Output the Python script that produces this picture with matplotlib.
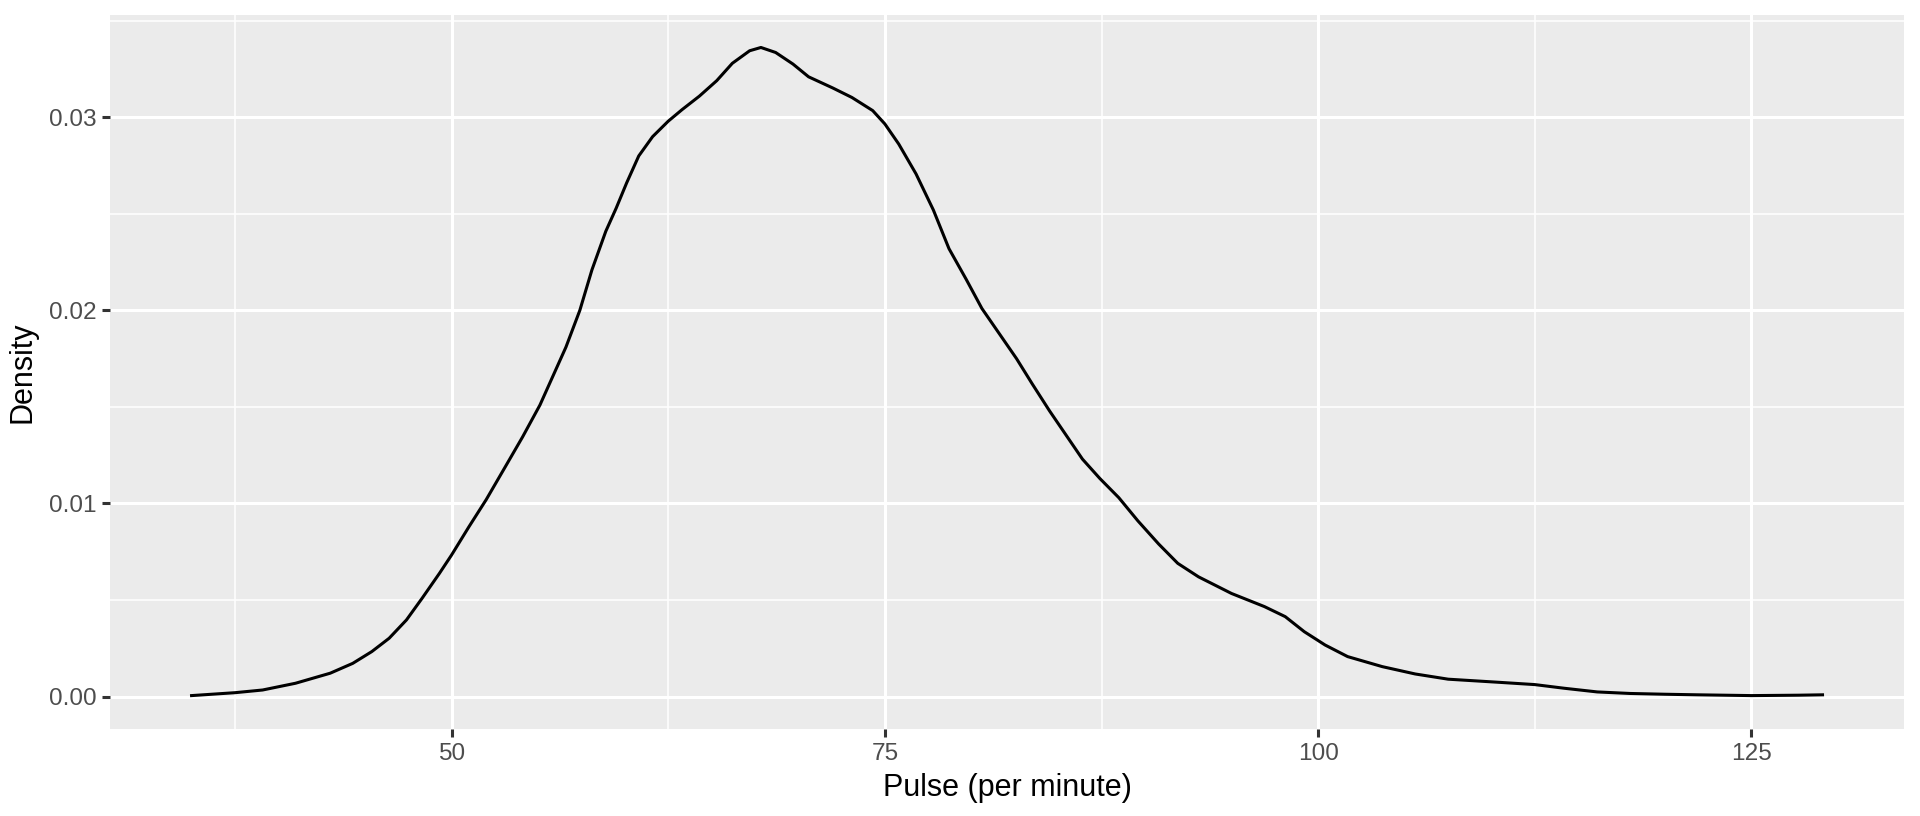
import matplotlib
matplotlib.use("Agg")
import matplotlib.pyplot as plt

# Density curve
pulse = [35.0, 37.5, 39.1, 41.0, 43.0, 44.3, 45.4, 46.4, 47.4, 48.3,
         49.3, 50.0, 51.0, 52.0, 53.1, 54.1, 55.1, 56.0, 56.6, 57.4,
         58.1, 58.9, 59.5, 60.1, 60.8, 61.6, 62.5, 63.3, 64.3, 65.3,
         66.2, 67.2, 67.85, 68.7, 69.7, 70.6, 72.0, 73.1, 74.3, 75.0,
         75.8, 76.8, 77.8, 78.7, 79.7, 80.6, 81.6, 82.6, 83.5, 84.5,
         86.4, 87.4, 88.5, 89.6, 90.8, 91.9, 93.1, 95.0, 96.9, 98.1,
         99.2, 100.4, 101.7, 103.7, 105.6, 107.5, 110.4, 112.5, 114.2, 116.1,
         118.0, 120.0, 121.9, 125.0, 127.7, 129.1]
density = [0.00005, 0.0002, 0.00034, 0.00069, 0.00121, 0.00172, 0.00233, 0.00302, 0.00397, 0.00509,
           0.00638, 0.00733, 0.00879, 0.0102, 0.0119, 0.01345, 0.0151, 0.0169, 0.0181, 0.0200,
           0.0221, 0.0241, 0.0253, 0.0266, 0.0280, 0.0290, 0.0298, 0.0304, 0.0311, 0.0319,
           0.0328, 0.03345, 0.03362, 0.03336, 0.03276, 0.0321, 0.03152, 0.03103, 0.03035, 0.02966,
           0.02862, 0.02707, 0.0252, 0.0232, 0.0216, 0.0201, 0.0188, 0.0175, 0.0162, 0.0148,
           0.0123, 0.0113, 0.0103, 0.0091, 0.0079, 0.0069, 0.0062, 0.00534, 0.00466, 0.00414,
           0.00336, 0.00267, 0.00207, 0.00155, 0.00117, 0.0009, 0.00074, 0.00062, 0.00043, 0.00024,
           0.00016, 0.00012, 0.00009, 0.00005, 0.00007, 0.00009]

x_ticks = [50, 75, 100, 125]
x_minor = [37.5, 62.5, 87.5, 112.5]
y_ticks = [0.00, 0.01, 0.02, 0.03]
y_minor = [0.005, 0.015, 0.025, 0.035]

plt.rcParams['font.family'] = ['Liberation Sans', 'DejaVu Sans']

fig = plt.figure(figsize=(9.6, 4.08), dpi=200)
ax = fig.add_axes([0.0573, 0.1066, 0.9344, 0.875])
ax.set_facecolor('#EBEBEB')
for s in ax.spines.values():
    s.set_visible(False)

# ggplot style expansion of 5%
xmin, xmax = min(pulse), max(pulse)
ymin, ymax = 0, max(density)
dx = (xmax - xmin) * 0.05
dy = (ymax - ymin) * 0.05
ax.set_xlim(xmin - dx, xmax + dx)
ax.set_ylim(ymin - dy, ymax + dy)

# grid
for v in x_minor:
    ax.axvline(v, color='white', lw=0.55, zorder=0)
for v in y_minor:
    ax.axhline(v, color='white', lw=0.55, zorder=0)
for v in x_ticks:
    ax.axvline(v, color='white', lw=1.1, zorder=0)
for v in y_ticks:
    ax.axhline(v, color='white', lw=1.1, zorder=0)

ax.plot(pulse, density, color='black', lw=1.1, solid_joinstyle='round', zorder=3)

ax.set_xticks(x_ticks)
ax.set_xticklabels([str(t) for t in x_ticks])
ax.set_yticks(y_ticks)
ax.set_yticklabels(['%.2f' % t for t in y_ticks])
ax.tick_params(axis='both', length=2.75, width=1.1, color='#333333',
               labelsize=8.8, labelcolor='#4D4D4D', pad=2.2)

ax.set_xlabel('Pulse (per minute)', fontsize=11, color='black', labelpad=3)
ax.set_ylabel('Density', fontsize=11, color='black', labelpad=4)

fig.savefig('out.png', dpi=200, facecolor='white')
